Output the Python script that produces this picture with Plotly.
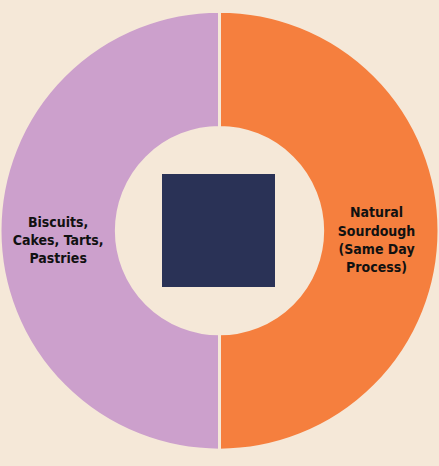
import plotly.graph_objects as go

categories = ["\u00a0<br>Natural<br>Sourdough<br>(Same Day<br>Process)", "\u00a0<br>Biscuits,<br>Cakes, Tarts,<br>Pastries"]
values = [50, 50]
colors = ["#F57F3E", "#CCA0CC"]

bg = "#F5E8D8"

fig = go.Figure(go.Pie(
    labels=categories,
    values=values,
    hole=0.47,
    sort=False,
    direction="clockwise",
    rotation=0,
    marker=dict(colors=colors, line=dict(color=bg, width=3)),
    textinfo="label",
    textposition="inside",
    insidetextorientation="horizontal",
    textfont=dict(family="DejaVu Sans Condensed, Liberation Sans Narrow, Arial Narrow, sans-serif",
                  size=14, color="#111111", weight="bold"),
    domain=dict(x=[0, 1], y=[0.03, 0.98]),
    showlegend=False,
    hoverinfo="label+percent",
))

fig.add_shape(type="rect", xref="paper", yref="paper",
              x0=162/439, x1=275/439, y0=(466-287)/466, y1=(466-174)/466,
              fillcolor="#2A3256", line=dict(width=0), layer="above")

fig.update_layout(
    width=439, height=466,
    margin=dict(l=0, r=0, t=0, b=0),
    paper_bgcolor=bg, plot_bgcolor=bg,
)

fig.write_html("out.html", config={"displayModeBar": False},
               post_script="document.body.style.margin='0';document.body.style.background='%s';" % bg)
